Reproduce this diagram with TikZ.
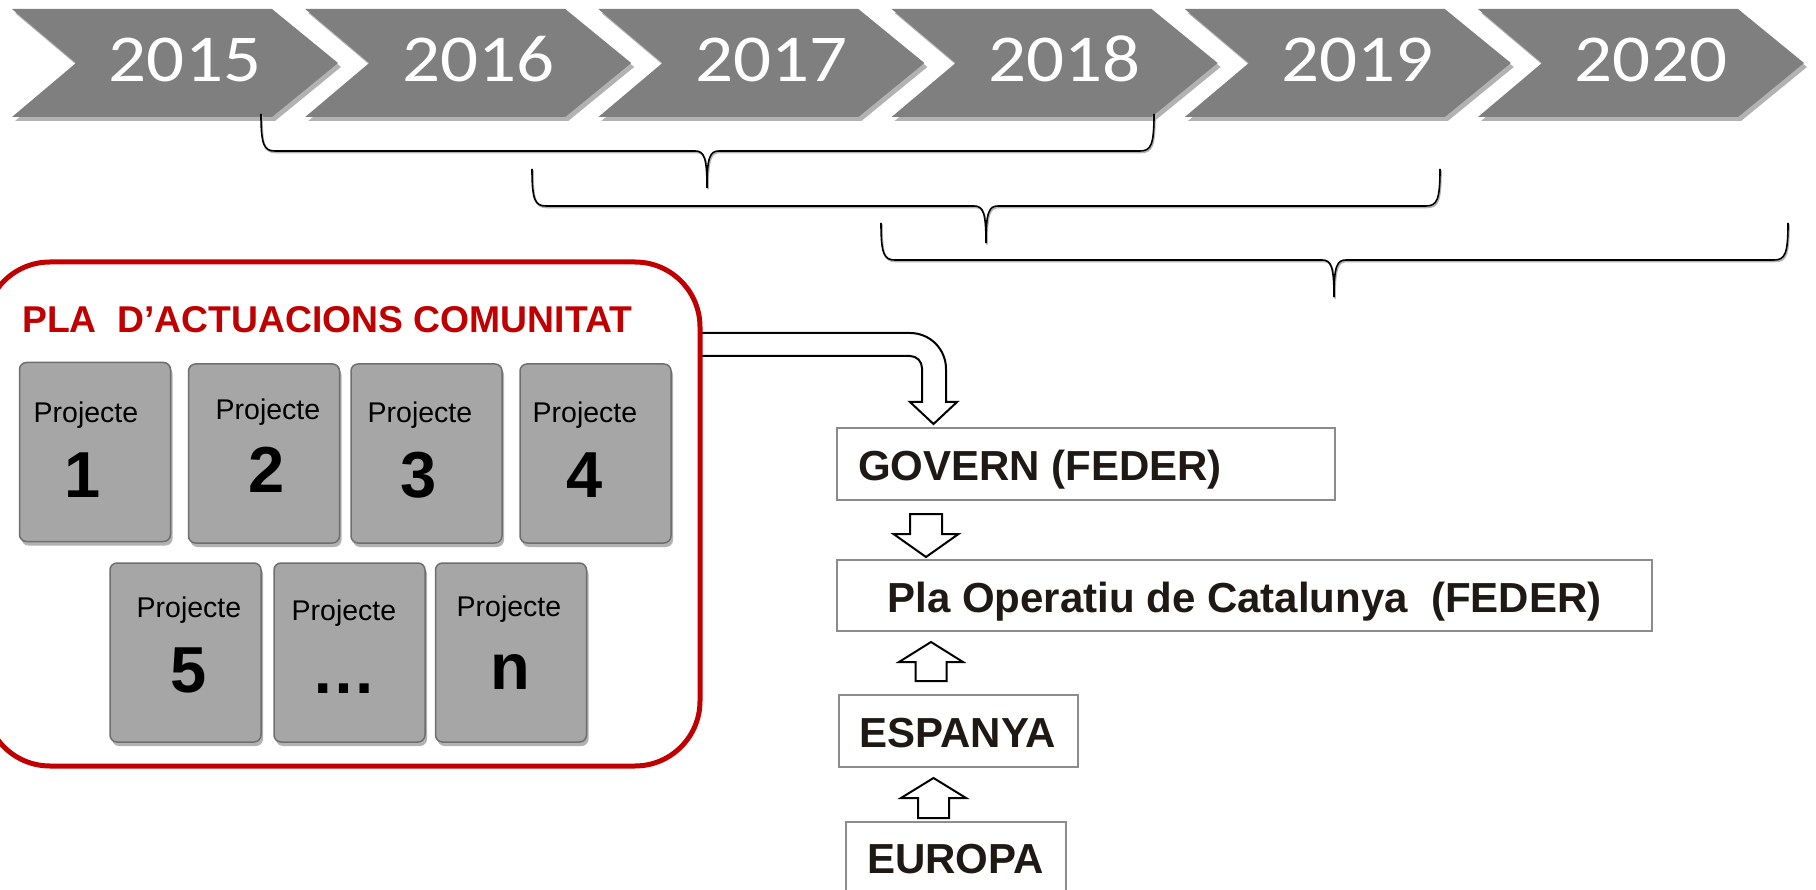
\documentclass[tikz,border=0pt]{standalone}
\usepackage{fontspec}
\setmainfont{Liberation Sans}
\newfontfamily\yearfont[FakeStretch=1.12]{Carlito}
\usetikzlibrary{shadows,calc}
\definecolor{chevgray}{HTML}{7F7F7F}
\definecolor{cardgray}{HTML}{A6A6A6}
\definecolor{cardedge}{HTML}{6E6E6E}
\definecolor{plared}{HTML}{C00000}
\definecolor{boxedge}{HTML}{8C8C8C}
\definecolor{darktext}{HTML}{1E1914}
\newcommand{\setfs}[1]{\fontsize{#1}{#1}\selectfont}
\begin{document}
\begin{tikzpicture}[x=1pt,y=-1pt,
  chev/.style={fill=chevgray, drop shadow={shadow xshift=3pt,shadow yshift=-4pt,opacity=0.3,fill=black}},
  yeartxt/.style={text=white, font=\yearfont\setfs{67}, inner sep=0, anchor=base},
  brace/.style={draw=black, line width=1.6, preaction={draw=black!30, line width=1.6, transform canvas={xshift=1pt,yshift=-1.5pt}}},
  card/.style={draw=cardedge, line width=1.5, fill=cardgray, rounded corners=7, minimum width=151, minimum height=179, inner sep=0, drop shadow={shadow xshift=2pt,shadow yshift=-4pt,opacity=0.3,fill=black}},
  projtxt/.style={font=\setfs{28.5}, text=black, inner sep=0, anchor=base},
  numtxt/.style={font=\bfseries\setfs{65}, text=black, inner sep=0, anchor=base},
  rbox/.style={draw=boxedge, line width=2, fill=white, inner sep=0},
  rtxt/.style={font=\bfseries\setfs{42}, text=darktext, inner sep=0, anchor=base},
  blockarrow/.style={draw=black, line width=2, fill=white, line join=miter},
]
\useasboundingbox (0,0) rectangle (1816,890);

% timeline chevrons
\foreach \yr [count=\i from 0] in {2015,2016,2017,2018,2019,2020}{
  \pgfmathsetmacro\L{12+293.2*\i}
  \fill[chev] (\L,9) -- ++(260,0) -- ++(66,54) -- ++(-66,54) -- ++(-260,0) -- ++(64,-54) -- cycle;
  \node[yeartxt] (y\yr) at (\L+173,82) {\yr};
}

% braces
\draw[brace] (261,114) .. controls (261,145) and (264,151) .. (275,151) -- (695,151)
  .. controls (704,151) and (707,157) .. (707,188)
  .. controls (707,157) and (710,151) .. (719,151) -- (1140,151)
  .. controls (1151,151) and (1154,145) .. (1154,114);
\draw[brace] (532,169) .. controls (532,200) and (535,206) .. (546,206) -- (974,206)
  .. controls (983,206) and (986,212) .. (986,243)
  .. controls (986,212) and (989,206) .. (998,206) -- (1426,206)
  .. controls (1437,206) and (1440,200) .. (1440,169);
\draw[brace] (881,223) .. controls (881,254) and (884,260) .. (895,260) -- (1322,260)
  .. controls (1331,260) and (1334,266) .. (1334,297)
  .. controls (1334,266) and (1337,260) .. (1346,260) -- (1774,260)
  .. controls (1785,260) and (1788,254) .. (1788,223);

% bent arrow from the plan to GOVERN
\path[blockarrow] (700,356) -- (910,356) .. controls (916.6,356) and (922,361.4) .. (922,368)
  -- (922,402) -- (910,402) -- (933.5,424) -- (957,402) -- (946,402) -- (946,369)
  .. controls (946,349) and (930,333) .. (910,333) -- (700,333);

% red plan box
\node[draw=plared, line width=5, rounded corners=65, minimum width=715, minimum height=504, inner sep=0] (plabox) at (342.5,514) {};
\node[anchor=base west, text=plared, font=\bfseries\setfs{37.3}, inner sep=0] (title) at (22,333) {PLA\ \ D’ACTUACIONS COMUNITAT};

% project cards
\node[card] (c1) at (95,452) {};
\node[card] (c2) at (264,453.5) {};
\node[card] (c3) at (426.5,453.5) {};
\node[card] (c4) at (595.5,453.5) {};
\node[card] (c5) at (185.5,652.5) {};
\node[card] (c6) at (349.5,652.5) {};
\node[card] (c7) at (511,652.5) {};

\node[projtxt] (p1) at (86,423) {Projecte};
\node[projtxt] (p2) at (268,420) {Projecte};
\node[projtxt] (p3) at (420,423) {Projecte};
\node[projtxt] (p4) at (585,423) {Projecte};
\node[projtxt] (p5) at (189,617) {Projecte};
\node[projtxt] (p6) at (344,620) {Projecte};
\node[projtxt] (p7) at (509,616) {Projecte};

\node[numtxt] (n1) at (83,497) {1};
\node[numtxt] (n2) at (267,493) {2};
\node[numtxt] (n3) at (419,497) {3};
\node[numtxt] (n4) at (585,497) {4};
\node[numtxt] (n5) at (189,692) {5};
\node[numtxt] (n6) at (344,693) {…};
\node[numtxt] (n7) at (510,689) {n};

% right-hand boxes
\node[rbox, minimum width=498, minimum height=72] (gov) at (1086,464) {};
\node[rbox, minimum width=815, minimum height=71] (pla) at (1244.5,595.5) {};
\node[rbox, minimum width=239, minimum height=72] (esp) at (958.5,731) {};
\node[rbox, minimum width=220, minimum height=76] (eur) at (956,860) {};

\node[rtxt] (govtxt) at (1040,480) {GOVERN (FEDER)};
\node[rtxt] (platxt) at (1244.5,612) {Pla Operatiu de Catalunya\ \ (FEDER)};
\node[rtxt] (esptxt) at (957.5,747) {ESPANYA};
\node[rtxt] (eurtxt) at (955.5,873) {EUROPA};

% block arrows between boxes
\path[blockarrow] (910,514) -- (942,514) -- (942,534) -- (958.5,534) -- (926,557) -- (893.5,534) -- (910,534) -- cycle;
\path[blockarrow] (915.5,681) -- (946.5,681) -- (946.5,662) -- (963,662) -- (931,642) -- (899,662) -- (915.5,662) -- cycle;
\path[blockarrow] (918,818) -- (949,818) -- (949,798) -- (966,798) -- (933.5,778) -- (901,798) -- (918,798) -- cycle;
\end{tikzpicture}
\end{document}
